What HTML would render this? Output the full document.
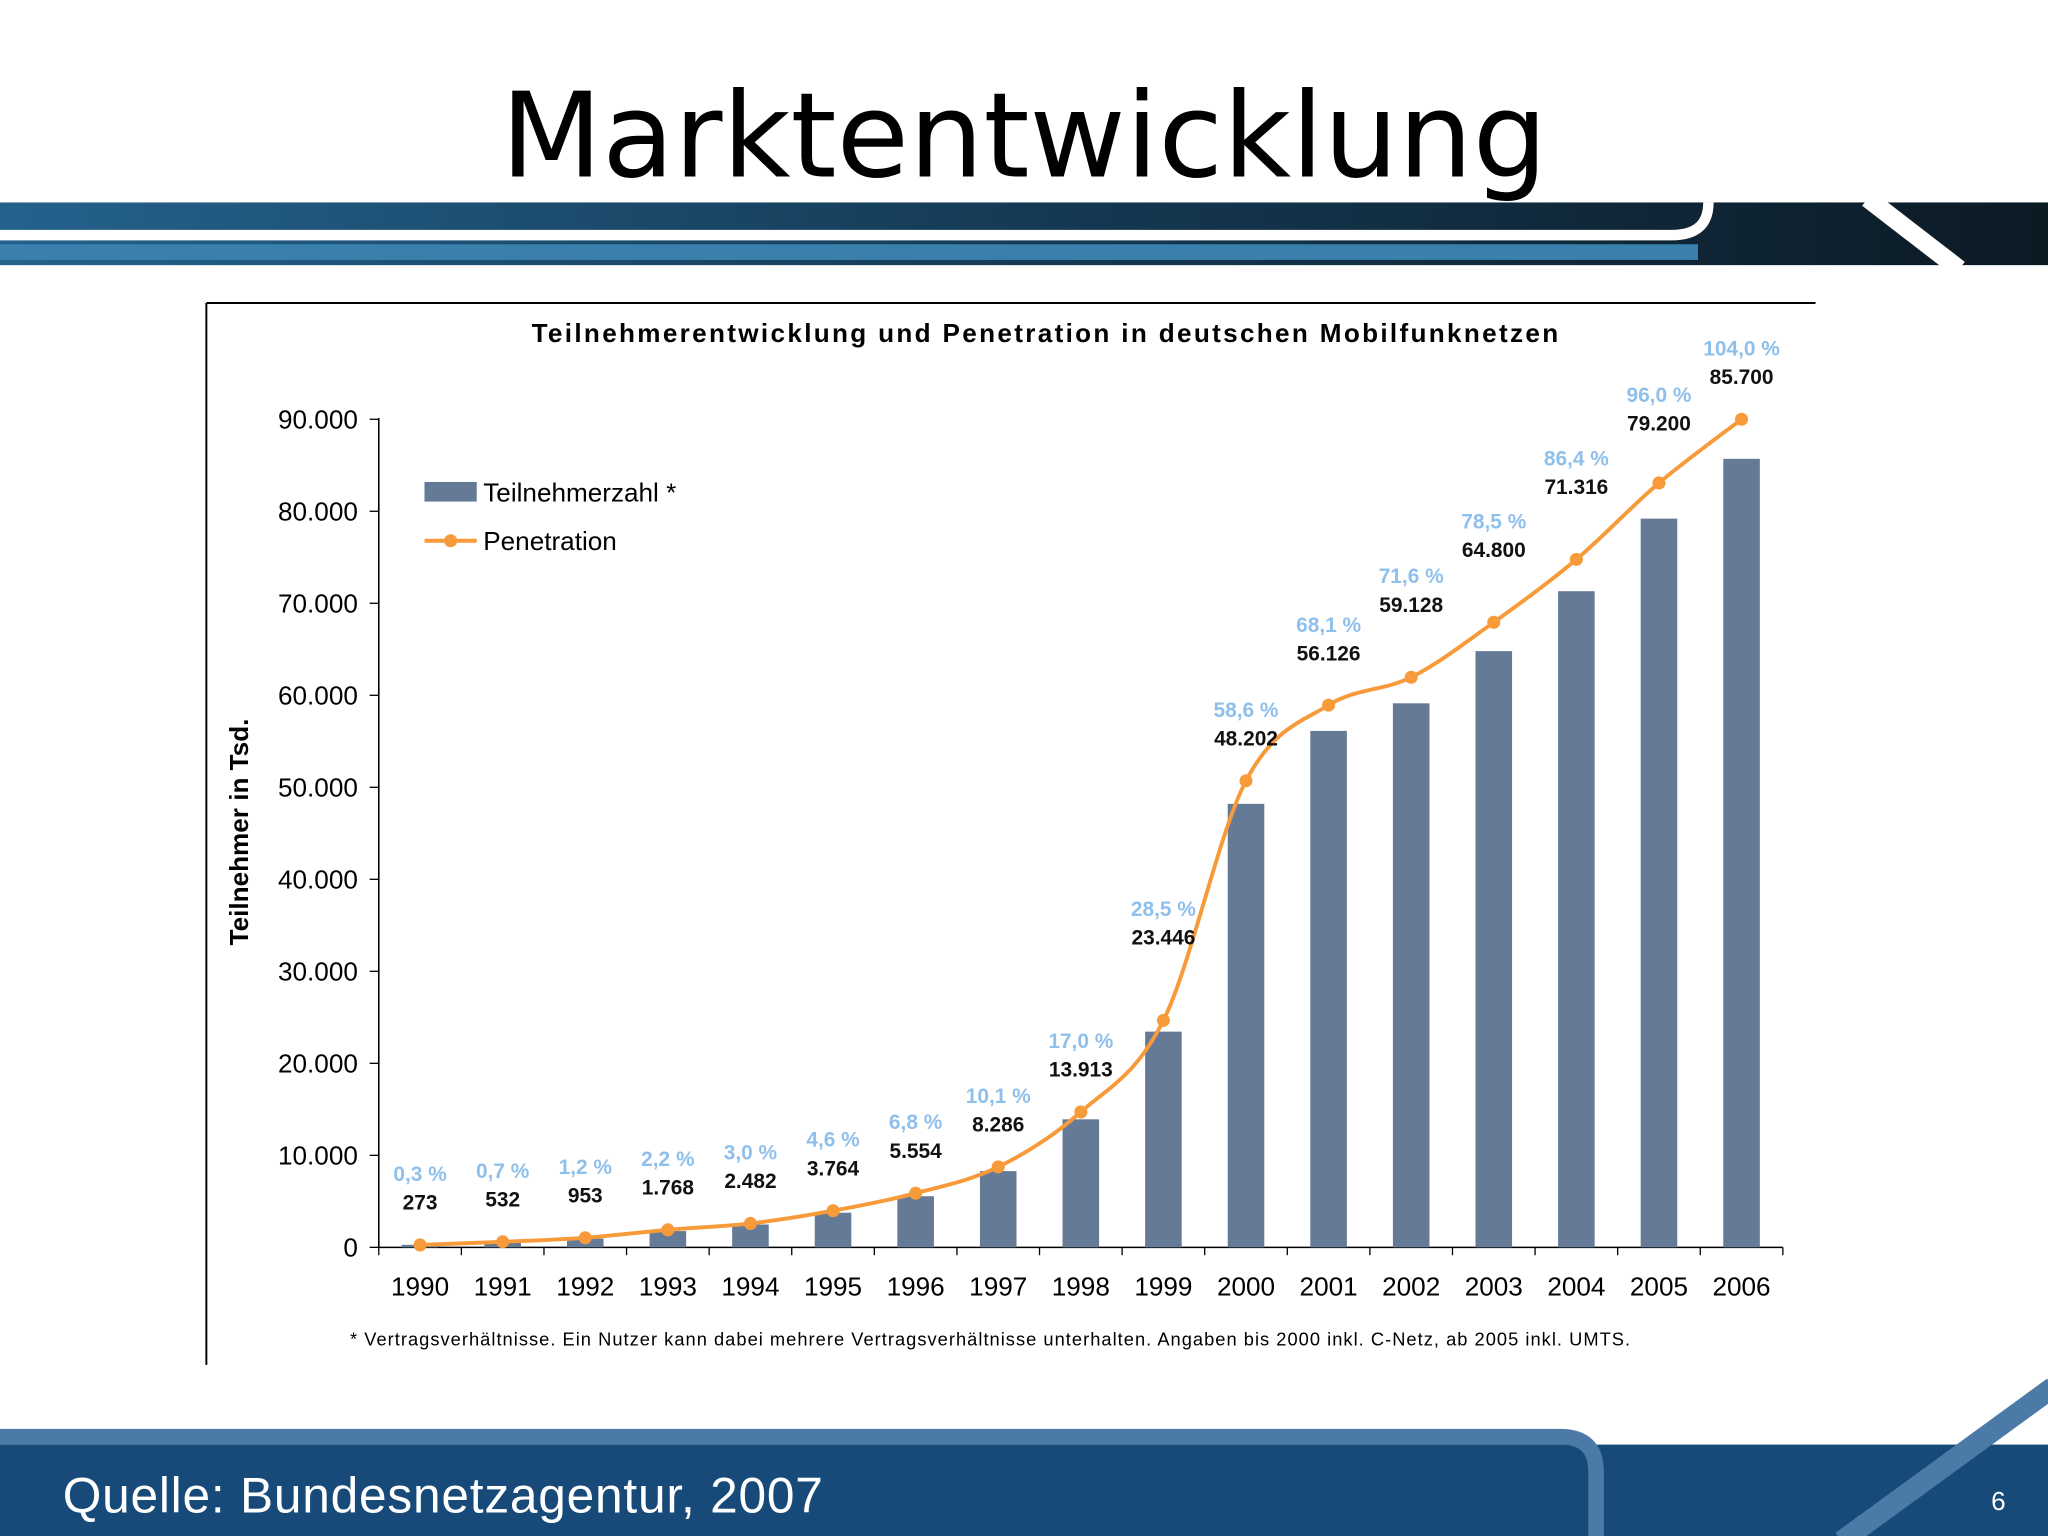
<!DOCTYPE html>
<html><head><meta charset="utf-8"><style>
html,body{margin:0;padding:0;background:#fff;}
svg{display:block;font-family:"Liberation Sans",sans-serif;}
</style></head><body>
<svg id="s" width="2048" height="1536" viewBox="0 0 1568 1176" xmlns="http://www.w3.org/2000/svg">
<defs>
<linearGradient id="hg" x1="0" x2="1" y1="0" y2="0">
<stop offset="0" stop-color="#24628c"/><stop offset="0.5" stop-color="#153a55"/><stop offset="1" stop-color="#0c1a24"/>
</linearGradient>
</defs>
<text x="784" y="135" text-anchor="middle" font-family="DejaVu Sans, sans-serif" font-size="90" fill="#000">Marktentwicklung</text>
<g>
<rect x="0" y="155" width="1568" height="48" fill="url(#hg)"/>
<rect x="0" y="187" width="1300" height="12" fill="#3a80ad"/>
<path d="M0 180 H1280 Q1308 180 1308 155" stroke="#fff" stroke-width="8" fill="none"/>
<line x1="1430" y1="152" x2="1500" y2="206" stroke="#fff" stroke-width="14"/>
</g>
<g>
<rect x="0" y="1106" width="1568" height="70" fill="#174a78"/>
<path d="M0 1100 H1195 Q1222 1100 1222 1127 V1176" stroke="#4a7aa5" stroke-width="12" fill="none"/>
<line x1="1410" y1="1180" x2="1572" y2="1062" stroke="#4a7aa5" stroke-width="16"/>
<text x="48" y="1158" font-size="38" fill="#fff" textLength="582">Quelle: Bundesnetzagentur, 2007</text>
<text x="1530" y="1156" font-size="20" fill="#fff" text-anchor="middle">6</text>
</g>
<g>
<line x1="158" y1="232" x2="158" y2="1045" stroke="#000" stroke-width="1.5"/>
<line x1="158" y1="232" x2="1390" y2="232" stroke="#000" stroke-width="1.5"/>
</g>
<text x="407" y="262" font-size="20" font-weight="bold" textLength="786">Teilnehmerentwicklung und Penetration in deutschen Mobilfunknetzen</text>
<text transform="translate(190,637) rotate(-90)" text-anchor="middle" font-size="20" font-weight="bold">Teilnehmer in Tsd.</text>
<g>
<rect x="325" y="369" width="40" height="15" fill="#657a96"/>
<text x="370" y="384" font-size="20">Teilnehmerzahl *</text>
<line x1="325" y1="414" x2="365" y2="414" stroke="#f79a3a" stroke-width="3"/>
<circle cx="345" cy="414" r="5" fill="#f79a3a"/>
<text x="370" y="421" font-size="20">Penetration</text>
</g>
<g id="plot"></g>
<text x="268" y="1030" font-size="14" textLength="980">* Vertragsverhältnisse. Ein Nutzer kann dabei mehrere Vertragsverhältnisse unterhalten. Angaben bis 2000 inkl. C-Netz, ab 2005 inkl. UMTS.</text>
</svg>
<script>
const years=["1990","1991","1992","1993","1994","1995","1996","1997","1998","1999","2000","2001","2002","2003","2004","2005","2006"];
const subscribers=[273,532,953,1768,2482,3764,5554,8286,13913,23446,48202,56126,59128,64800,71316,79200,85700];
const subscriberLabels=["273","532","953","1.768","2.482","3.764","5.554","8.286","13.913","23.446","48.202","56.126","59.128","64.800","71.316","79.200","85.700"];
const penetration=[0.3,0.7,1.2,2.2,3.0,4.6,6.8,10.1,17.0,28.5,58.6,68.1,71.6,78.5,86.4,96.0,104.0];
const penetrationLabels=["0,3 %","0,7 %","1,2 %","2,2 %","3,0 %","4,6 %","6,8 %","10,1 %","17,0 %","28,5 %","58,6 %","68,1 %","71,6 %","78,5 %","86,4 %","96,0 %","104,0 %"];
const yTicks=[0,10000,20000,30000,40000,50000,60000,70000,80000,90000];
const yTickLabels=["0","10.000","20.000","30.000","40.000","50.000","60.000","70.000","80.000","90.000"];

const NS="http://www.w3.org/2000/svg";
const g=document.getElementById('plot');
const X0=290,X1=1365,Y0=955,Ytop=321;
const step=(X1-X0)/years.length;
const xC=i=>X0+step*(i+0.5);
const yV=v=>Y0-(v/90000)*(Y0-Ytop);
const yP=p=>Y0-(p/104)*(Y0-Ytop);
function el(t,a,txt){const e=document.createElementNS(NS,t);for(const k in a)e.setAttribute(k,a[k]);if(txt!=null)e.textContent=txt;g.appendChild(e);return e;}
// label offset layout (pixels above highest mark), by position index
function labelOff(i){ if(i===9) return 64; if(i>=12&&i<=14) return 56; if(i===11) return 40; if(i===15) return 46; return 33; }

let ax=el('line',{x1:X0,y1:Ytop-1,x2:X0,y2:Y0,stroke:'#000','stroke-width':1.2});


let xa=el('line',{x1:X0,y1:Y0,x2:X1,y2:Y0,stroke:'#000','stroke-width':1.2});


yTicks.forEach((v,i)=>{
  el('line',{x1:X0-7,y1:yV(v),x2:X0,y2:yV(v),stroke:'#000'});
  const t=el('text',{x:274,y:yV(v)+7,'text-anchor':'end','font-size':20},yTickLabels[i]);
  
  
});
for(let i=0;i<=years.length;i++){el('line',{x1:X0+step*i,y1:Y0,x2:X0+step*i,y2:Y0+6,stroke:'#000'});}
years.forEach((y,i)=>{
  const t=el('text',{x:xC(i),y:Y0+37,'text-anchor':'middle','font-size':20},y);
  
  
  const b=el('rect',{x:xC(i)-14,y:yV(subscribers[i]),width:28,height:Y0-yV(subscribers[i]),fill:'#657a96'});
  
  
});
const pts=penetration.map((p,i)=>[xC(i),yP(p)]);
let d='M'+pts[0][0]+' '+pts[0][1];
for(let i=0;i<pts.length-1;i++){
  const p0=pts[Math.max(0,i-1)],p1=pts[i],p2=pts[i+1],p3=pts[Math.min(pts.length-1,i+2)];
  const c1=[p1[0]+(p2[0]-p0[0])/6,p1[1]+(p2[1]-p0[1])/6],c2=[p2[0]-(p3[0]-p1[0])/6,p2[1]-(p3[1]-p1[1])/6];
  d+=` C${c1[0]} ${c1[1]} ${c2[0]} ${c2[1]} ${p2[0]} ${p2[1]}`;
}
const ln=el('path',{d:d,fill:'none',stroke:'#f79a3a','stroke-width':3});


pts.forEach((p,i)=>{
  const c=el('circle',{cx:p[0],cy:p[1],r:5,fill:'#f79a3a'});
  
  
  const top=Math.min(p[1],yV(subscribers[i]));
  const off=labelOff(i);
  const vl=el('text',{x:p[0],y:top-off+6,'text-anchor':'middle','font-size':16,'font-weight':'bold','fill':'#111'},subscriberLabels[i]);
  
  
  const pl=el('text',{x:p[0],y:top-off-16,'text-anchor':'middle','font-size':16,'font-weight':'bold','fill':'#8fc0ec'},penetrationLabels[i]);
  
  
});
</script>
</body></html>
